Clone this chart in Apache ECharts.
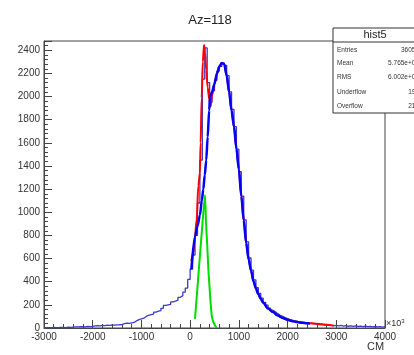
<!DOCTYPE html>
<html>
<head>
<meta charset="utf-8">
<script src="https://cdn.jsdelivr.net/npm/echarts@6/dist/echarts.min.js"></script>
<style>
html,body{margin:0;padding:0;background:#fff;}
#c{width:414px;height:355px;}
</style>
</head>
<body>
<div id="c"></div>
<script>
// ---- data ----
const titleText = 'Az=118';
const binStart = -3000;
const binWidth = 50;
const histCounts = [
  3,4,2,5,4,3,6,5,4,7,6,8,
  10,9,12,11,10,13,12,14,
  18,20,19,22,21,24,23,26,25,27,28,30,
  38,42,40,45,48,62,72,78,
  85,100,110,115,120,138,145,150,170,195,
  200,205,225,232,240,265,280,310,345,420,
  510,630,800,1080,1450,2150,2420,2120,1950,2050,
  2140,2220,2260,2290,2270,2180,2040,1890,1740,1545,
  1350,1140,935,745,605,500,415,348,298,258,
  222,198,172,154,140,124,110,100,90,82,
  73,67,62,57,53,49,46,44,41,39,
  36,34,30,32,27,28,24,22,21,23,
  18,22,16,20,15,18,14,19,13,16,
  12,17,11,15,10,13,9,12,8,11
];
const redX = [25,65,100,134,168,200,215,237,260,285,305,330,360,390,420,450,500,550,600,650,700,750,800,850,900,950,1000,1050,1100,1150,1200,1250,1300,1350,1400,1450,1500,1600,1700,1800,1900,2000,2100,2200,2300,2400,2500,2600,2700,2800,2900,2950];
const redY = [580,650,790,940,1230,1340,1600,1990,2300,2445,2380,2230,2080,1980,1915,2010,2110,2200,2260,2290,2280,2180,2040,1880,1740,1550,1370,1140,930,735,595,495,405,342,292,252,218,168,138,108,87,72,61,53,47,43,40,36,32,28,24,20];
const blueX = [25,100,150,200,240,270,300,330,360,390,410,450,500,550,600,650,700,750,800,850,900,950,1000,1050,1100,1150,1200,1250,1300,1350,1400,1450,1500,1600,1700,1800,1900,2000,2100,2200,2300,2400,2460];
const blueY = [506,790,880,975,1100,1200,1320,1450,1650,1880,2000,2040,2110,2200,2260,2290,2280,2180,2040,1880,1740,1550,1370,1140,930,735,595,495,405,342,292,252,218,168,138,108,87,71,59,51,45,41,39];
const greenX = [100,150,200,250,305,325,350,375,400,425,450,500,545];
const greenY = [80,350,620,890,1150,920,720,500,340,190,90,30,0];
const xTicks = [-3000,4000,1000];
const yTicks = [0,2480,200];
const statsTitle = 'hist5';
const statsLabels = ['Entries','Mean','RMS','Underflow','Overflow'];
const statsValues = ['36057','5.765e+02','6.002e+02','191','213'];
const xTitle = 'CM';

// ---- build ----
const histData = histCounts.map((v,i)=>[binStart + i*binWidth, v]);
histData.push([binStart + histCounts.length*binWidth, histCounts[histCounts.length-1]]);
const pair = (xs,ys)=>xs.map((x,i)=>[x,ys[i]]);

const chart = echarts.init(document.getElementById('c'));
const font = 'Liberation Sans, Arial, Helvetica, sans-serif';
const axisCol = '#444';

const statsGraphics = [];
const bx = 333, by = 28, bw = 95, bh = 85;
statsGraphics.push({type:'rect', shape:{x:bx, y:by, width:bw, height:bh}, style:{fill:'#fff', stroke:'#333', lineWidth:1}, z:100});
statsGraphics.push({type:'line', shape:{x1:bx, y1:42, x2:bx+bw, y2:42}, style:{stroke:'#333', lineWidth:1}, z:101});
statsGraphics.push({type:'text', x:375, y:35, style:{text:statsTitle, fill:'#222', font:'11px '+font, align:'center', verticalAlign:'middle'}, z:101});
const rowYs = [50, 63, 77, 92, 106];
statsLabels.forEach((l,i)=>{
  statsGraphics.push({type:'text', x:337, y:rowYs[i], style:{text:l, fill:'#333', font:'6.5px '+font, align:'left', verticalAlign:'middle'}, z:101});
  statsGraphics.push({type:'text', x:419, y:rowYs[i], style:{text:statsValues[i], fill:'#333', font:'6.5px '+font, align:'right', verticalAlign:'middle'}, z:101});
});

const plain = v => String(v);

chart.setOption({
  animation:false,
  backgroundColor:'#fff',
  title:{text:titleText, left:205, top:9, textAlign:'center', textStyle:{fontFamily:font, fontSize:13, fontWeight:'normal', color:'#222'}},
  grid:{left:44, right:29, top:41, bottom:27, show:true, borderColor:axisCol, borderWidth:1, backgroundColor:'transparent'},
  xAxis:{type:'value', min:xTicks[0], max:xTicks[1], interval:xTicks[2],
    axisLine:{show:true, onZero:false, lineStyle:{color:axisCol, width:1}},
    axisTick:{show:true, inside:true, length:8, lineStyle:{color:axisCol}},
    minorTick:{show:true, splitNumber:5, length:4, lineStyle:{color:axisCol}},
    splitLine:{show:false},
    axisLabel:{color:'#333', fontFamily:font, fontSize:10, margin:4, formatter:plain}
  },
  yAxis:{type:'value', min:yTicks[0], max:yTicks[1], interval:yTicks[2],
    axisLine:{show:true, onZero:false, lineStyle:{color:axisCol, width:1}},
    axisTick:{show:true, inside:true, length:8, lineStyle:{color:axisCol}},
    minorTick:{show:true, splitNumber:5, length:4, lineStyle:{color:axisCol}},
    splitLine:{show:false},
    axisLabel:{color:'#333', fontFamily:font, fontSize:10, margin:4, showMaxLabel:false, formatter:plain}
  },
  series:[
    {type:'line', data:histData, step:'end', symbol:'none', z:1, lineStyle:{color:'#3a3ac8', width:1.3}},
    {type:'line', data:pair(redX,redY), smooth:0.3, smoothMonotone:'x', symbol:'none', z:2, lineStyle:{color:'#ff0000', width:2}},
    {type:'line', data:pair(blueX,blueY), smooth:0.3, smoothMonotone:'x', symbol:'none', z:3, lineStyle:{color:'#0000ff', width:2.5}},
    {type:'line', data:pair(greenX,greenY), smooth:0.2, symbol:'none', z:4, lineStyle:{color:'#00dd00', width:2}}
  ],
  graphic:[
    {type:'text', left:386, top:318, style:{rich:{a:{fontSize:9, fontFamily:font, fill:'#333'}, b:{fontSize:6, fontFamily:font, fill:'#333', verticalAlign:'top', padding:[0,0,6,0]}}, text:'{a|×10}{b|3}'}, z:50},
    {type:'text', left:367, top:341, style:{text:xTitle, fontSize:11, fontFamily:font, fill:'#333'}, z:50}
  ].concat(statsGraphics)
});
</script>
</body>
</html>
